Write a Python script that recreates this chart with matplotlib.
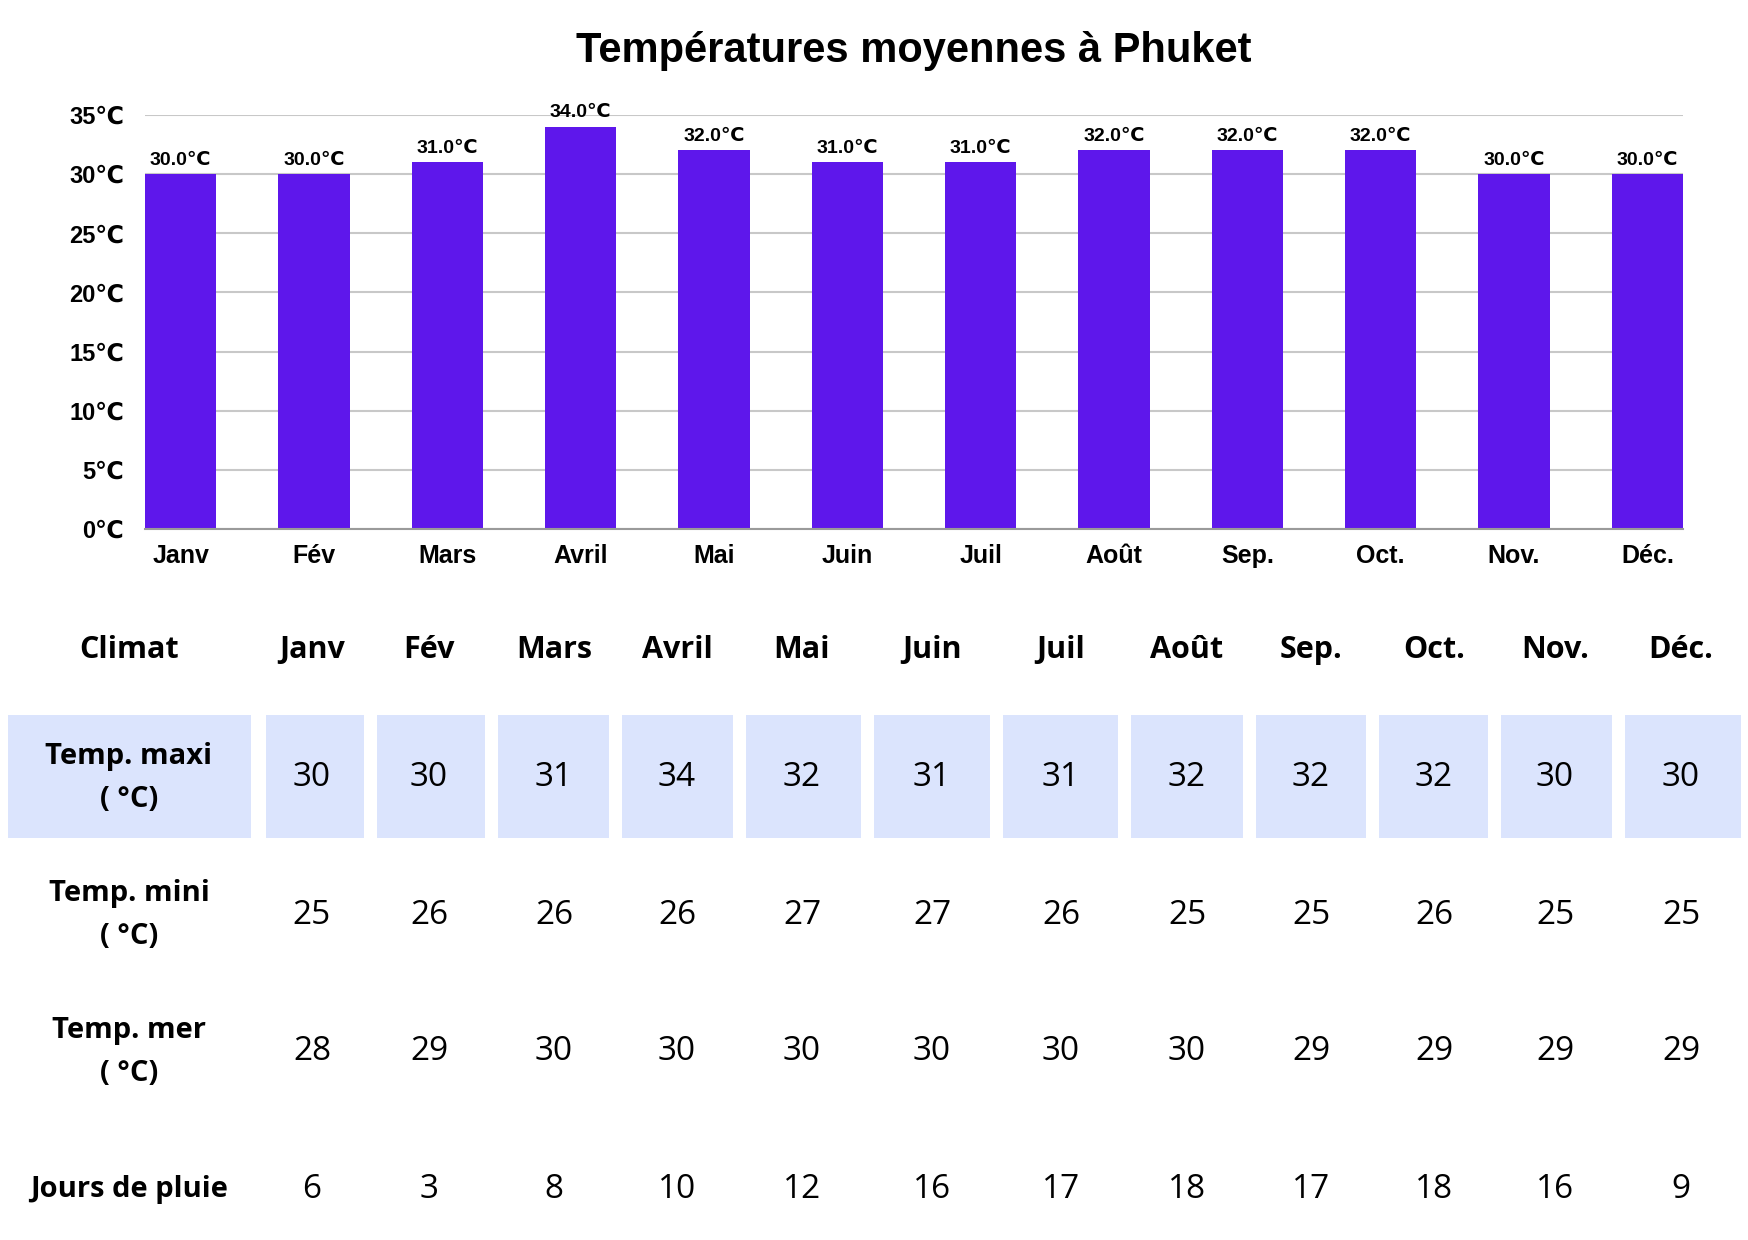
import matplotlib
matplotlib.use('Agg')
import matplotlib.pyplot as plt
from matplotlib.patches import Rectangle
import numpy as np

# data
months = ['Janv', 'Fév', 'Mars', 'Avril', 'Mai', 'Juin', 'Juil', 'Août', 'Sep.', 'Oct.', 'Nov.', 'Déc.']
temp_max = [30, 30, 31, 34, 32, 31, 31, 32, 32, 32, 30, 30]
temp_min = [25, 26, 26, 26, 27, 27, 26, 25, 25, 26, 25, 25]
temp_mer = [28, 29, 30, 30, 30, 30, 30, 30, 29, 29, 29, 29]
jours_pluie = [6, 3, 8, 10, 12, 16, 17, 18, 17, 18, 16, 9]
row_labels = ['Temp. maxi\n( °C)', 'Temp. mini\n( °C)', 'Temp. mer\n( °C)', 'Jours de pluie']
y_ticks = [0, 5, 10, 15, 20, 25, 30, 35]

BAR = '#5e17eb'
SHADE = '#dbe4fd'
chart_font = ['Liberation Sans', 'DejaVu Sans']
table_font = ['Open Sans', 'DejaVu Sans']

W, H = 1748, 1240
fig = plt.figure(figsize=(W / 100, H / 100), dpi=100)

# ---- bar chart ----
bw = 0.535
ax = fig.add_axes([145 / W, 1 - 529 / H, (1683 - 145) / W, (529 - 115) / H])
x = np.arange(len(months))
ax.bar(x, temp_max, width=bw, color=BAR, zorder=3)
ax.set_xlim(-bw / 2, len(months) - 1 + bw / 2)
ax.set_ylim(0, 35)
ax.set_yticks(y_ticks)
ax.set_yticklabels([f'{v}℃' for v in y_ticks], family=chart_font, fontweight='bold', fontsize=17)
ax.set_xticks(x)
ax.set_xticklabels(months, family=chart_font, fontweight='bold', fontsize=18)
ax.tick_params(length=0)
ax.tick_params(axis='x', pad=11)
ax.tick_params(axis='y', pad=15)
ax.grid(axis='y', color='#c8c8c8', linewidth=1.5, zorder=0)
for s in ['top', 'right', 'left']:
    ax.spines[s].set_visible(False)
ax.spines['bottom'].set_color('#9a9a9a')
ax.spines['bottom'].set_linewidth(1.5)
ax.spines['bottom'].set_zorder(4)
for xi, v in zip(x, temp_max):
    ax.annotate(f'{v:.1f}℃', (xi, v), xytext=(0, 4), textcoords='offset points',
                ha='center', va='bottom', family=chart_font, fontweight='bold', fontsize=14)

fig.text(914 / W, 1 - 51 / H, 'Températures moyennes à Phuket', ha='center', va='center',
         family=['Liberation Sans', 'DejaVu Sans'], fontweight='bold', fontsize=30)

# ---- table ----
tx = fig.add_axes([0, 0, 1, 1])
tx.set_xlim(0, W)
tx.set_ylim(H, 0)
tx.axis('off')

col_x = [312, 429, 554, 677, 802, 932, 1061, 1187, 1311, 1434, 1555, 1681]
label_x = 129
header_y = 650
row_y = [778, 915, 1052, 1190]
gap = 13

# shaded first row
top, bot = 715, 838
tx.add_patch(Rectangle((8, top), 251 - 8, bot - top, color=SHADE, lw=0))
edges = [col_x[0] - (col_x[1] - col_x[0]) / 2 + 6]
edges += [(a + b) / 2 for a, b in zip(col_x[:-1], col_x[1:])]
edges += [W - 1]
for i in range(len(months)):
    l = edges[i] + gap / 2
    r = edges[i + 1] - gap / 2
    tx.add_patch(Rectangle((l, top), r - l, bot - top, color=SHADE, lw=0))

tx.text(label_x, header_y, 'Climat', ha='center', va='center', family=table_font,
        fontweight='bold', fontsize=22)
for cx, m in zip(col_x, months):
    tx.text(cx, header_y, m, ha='center', va='center', family=table_font,
            fontweight='bold', fontsize=22)

rows = [temp_max, temp_min, temp_mer, jours_pluie]
for ry, lab, vals in zip(row_y, row_labels, rows):
    tx.text(label_x, ry, lab, ha='center', va='center', family=table_font,
            fontweight='bold', fontsize=21, linespacing=1.6)
    for cx, v in zip(col_x, vals):
        tx.text(cx, ry, str(v), ha='center', va='center', family=table_font, fontsize=24)

fig.savefig('out.png', dpi=100, facecolor='white')
